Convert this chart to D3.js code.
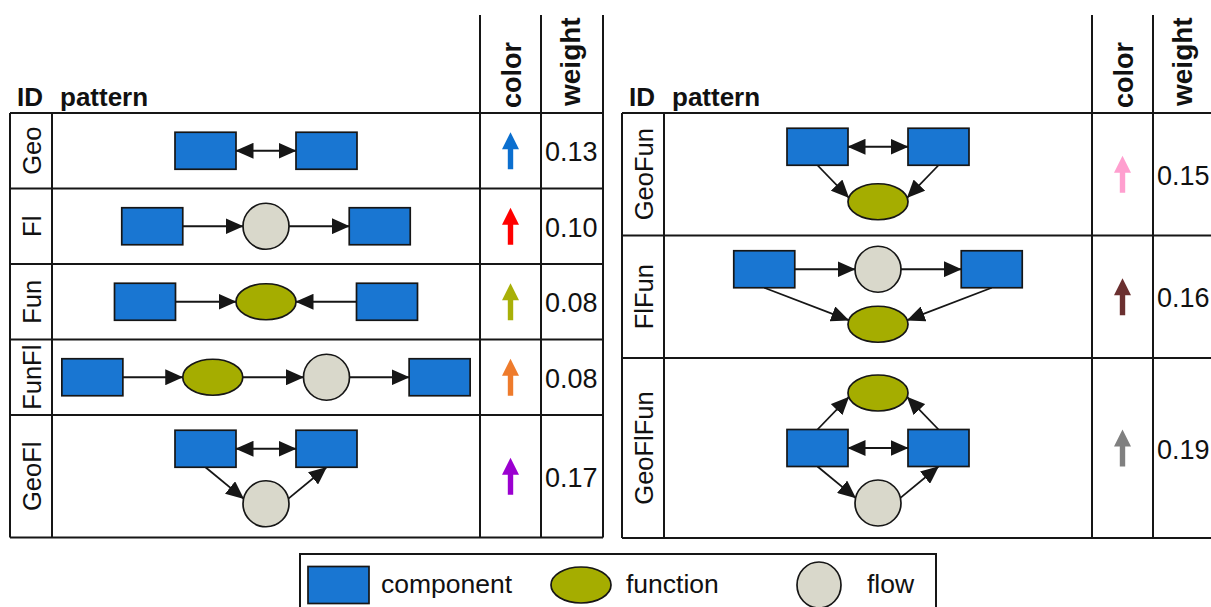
<!DOCTYPE html>
<html>
<head>
<meta charset="utf-8">
<script src="https://cdn.jsdelivr.net/npm/d3@7/dist/d3.min.js"></script>
<style>
  html, body { margin: 0; padding: 0; background: #fff; }
  text { font-family: "Liberation Sans", Arial, Helvetica, sans-serif; fill: #111; }
</style>
</head>
<body>
<script>
// ---------------- DATA ----------------
const ids = ["Geo", "Fl", "Fun", "FunFl", "GeoFl", "GeoFun", "FlFun", "GeoFlFun"];
const weights = [0.13, 0.10, 0.08, 0.08, 0.17, 0.15, 0.16, 0.19];
const arrowColors = ["#0b6fcf", "#ff0000", "#a8b008", "#ee7b2c", "#9b00d0", "#ff9fcf", "#6b3030", "#808080"];
const tableOf = [0, 0, 0, 0, 0, 1, 1, 1];
const headers = ["ID", "pattern", "color", "weight"];

// node kinds: c = component, f = function, w = flow ; [kind, horizontal slot, level]
const patternNodes = [
  [["c", -1, 0], ["c", 1, 0]],
  [["c", -1.88, 0], ["w", 0, 0], ["c", 1.88, 0]],
  [["c", -2, 0], ["f", 0, 0], ["c", 2, 0]],
  [["c", -2.87, 0], ["f", -0.88, 0], ["w", 1, 0], ["c", 2.87, 0]],
  [["c", -1, 0], ["c", 1, 0], ["w", 0, 1]],
  [["c", -1, 0], ["c", 1, 0], ["f", 0, 1]],
  [["c", -1.88, 0], ["w", 0, 0], ["c", 1.88, 0], ["f", 0, 1]],
  [["f", 0, 0], ["c", -1, 1], ["c", 1, 1], ["w", 0, 2]]
];
// edges: [from, to, fromSide, toSide, bidirectional]
const patternEdges = [
  [[0, 1, "r", "l", true]],
  [[0, 1, "r", "l", false], [1, 2, "r", "l", false]],
  [[0, 1, "r", "l", false], [2, 1, "l", "r", false]],
  [[0, 1, "r", "l", false], [1, 2, "r", "l", false], [2, 3, "r", "l", false]],
  [[0, 1, "r", "l", true], [0, 2, "b", "l", false], [2, 1, "r", "b", false]],
  [[0, 1, "r", "l", true], [0, 2, "b", "l", false], [1, 2, "b", "r", false]],
  [[0, 1, "r", "l", false], [1, 2, "r", "l", false], [0, 3, "b", "l", false], [2, 3, "b", "r", false]],
  [[1, 2, "r", "l", true], [1, 0, "t", "l", false], [2, 0, "t", "r", false], [1, 3, "b", "l", false], [3, 2, "r", "b", false]]
];
const legendKinds = ["c", "f", "w"];
const legendLabels = ["component", "function", "flow"];

// ---------------- STYLE / LAYOUT ----------------
const W = 1211, H = 607;
const fills = { c: "#1976d2", f: "#a5ad00", w: "#d9d8cb" };
const INK = "#161616";
const tableLefts = [10, 622];
const colW = [42, 428, 61, 62];
const headTop = 15, bodyTop = 113;
const rowH = { 1: 75.5, 2: 122.5, 3: 180 };
const unitX = 60.5, levelGap = 55;
const sizes = { c: { w: 61, h: 37 }, f: { rx: 30, ry: 18 }, w: { rx: 23, ry: 23 } };

const svg = d3.select("body").append("svg").attr("width", W).attr("height", H);

const defs = svg.append("defs");
defs.append("marker").attr("id", "ah")
  .attr("markerUnits", "userSpaceOnUse")
  .attr("viewBox", "0 0 18 16").attr("markerWidth", 18).attr("markerHeight", 16)
  .attr("refX", 17.5).attr("refY", 8).attr("orient", "auto-start-reverse")
  .append("path").attr("d", "M0,0 L18,8 L0,16 Z").attr("fill", INK);

const rows = ids.map((id, i) => ({
  id, i, table: tableOf[i], weight: weights[i], color: arrowColors[i],
  nodes: patternNodes[i], edges: patternEdges[i],
  levels: d3.max(patternNodes[i], d => d[2]) + 1
}));
[0, 1].forEach(t => {
  let y = bodyTop;
  rows.filter(r => r.table === t).forEach(r => {
    r.y0 = y; r.h = rowH[r.levels]; r.y1 = y + r.h; r.cy = y + r.h / 2; y = r.y1;
  });
});

const lineG = svg.append("g").attr("stroke", INK).attr("stroke-width", 2).attr("fill", "none");

[0, 1].forEach(t => {
  const L = tableLefts[t];
  const xs = d3.cumsum([L].concat(colW));
  const tr = rows.filter(r => r.table === t);
  const bottom = d3.max(tr, r => r.y1);
  const right = Math.min(xs[4], W + 5);
  const hy = [bodyTop].concat(tr.map(r => r.y1));
  hy.forEach(y => lineG.append("line").attr("x1", L).attr("x2", right).attr("y1", y).attr("y2", y));
  [xs[0], xs[1]].forEach(x => lineG.append("line").attr("x1", x).attr("x2", x).attr("y1", bodyTop).attr("y2", bottom));
  [xs[2], xs[3], xs[4]].forEach(x => lineG.append("line").attr("x1", x).attr("x2", x).attr("y1", headTop).attr("y2", bottom));

  svg.append("text").attr("x", L + 7).attr("y", 106).attr("font-size", 26).attr("font-weight", "bold").text(headers[0]);
  svg.append("text").attr("x", xs[1] + 8).attr("y", 106).attr("font-size", 26).attr("font-weight", "bold").text(headers[1]);
  svg.append("text").attr("transform", `translate(${xs[2] + 41},108) rotate(-90)`)
    .attr("font-size", 27).attr("font-weight", "bold").text(headers[2]);
  svg.append("text").attr("transform", `translate(${xs[3] + 39},106) rotate(-90)`)
    .attr("font-size", 28).attr("font-weight", "bold").text(headers[3]);

  tr.forEach(r => {
    r.xs = xs;
    svg.append("text").attr("transform", `translate(${L + 30.5},${r.cy}) rotate(-90)`)
      .attr("text-anchor", "middle").attr("font-size", 25.5).text(r.id);
    svg.append("text").attr("x", xs[3] + 4).attr("y", r.cy + 10.5)
      .attr("font-size", 27).text(d3.format(".2f")(r.weight));
    const ax = (xs[2] + xs[3]) / 2, top = r.cy - 18.5, bot = r.cy + 18.5, hh = 17, hw = 8.5, sw = 2.7;
    svg.append("path").attr("fill", r.color)
      .attr("d", `M${ax},${top} L${ax + hw},${top + hh} L${ax + sw},${top + hh} L${ax + sw},${bot} L${ax - sw},${bot} L${ax - sw},${top + hh} L${ax - hw},${top + hh} Z`);
  });
});

function drawNode(g, kind, x, y) {
  if (kind === "c") {
    g.append("rect").attr("x", x - sizes.c.w / 2).attr("y", y - sizes.c.h / 2)
      .attr("width", sizes.c.w).attr("height", sizes.c.h)
      .attr("fill", fills.c).attr("stroke", INK).attr("stroke-width", 1.7);
  } else {
    g.append("ellipse").attr("cx", x).attr("cy", y).attr("rx", sizes[kind].rx).attr("ry", sizes[kind].ry)
      .attr("fill", fills[kind]).attr("stroke", INK).attr("stroke-width", 1.7);
  }
}

function anchor(n, side, other) {
  if (n.kind === "c") {
    const hw = sizes.c.w / 2, hh = sizes.c.h / 2;
    return side === "r" ? [n.x + hw, n.y] : side === "l" ? [n.x - hw, n.y]
      : side === "t" ? [n.x, n.y - hh] : [n.x, n.y + hh];
  }
  const rx = sizes[n.kind].rx, ry = sizes[n.kind].ry;
  let tilt = 0;
  if (Math.abs(other.y - n.y) > 3) tilt = (other.y < n.y ? -1 : 1) * 13 * Math.PI / 180;
  if (side === "l") return [n.x - rx * Math.cos(tilt), n.y + ry * Math.sin(tilt)];
  if (side === "r") return [n.x + rx * Math.cos(tilt), n.y + ry * Math.sin(tilt)];
  if (side === "t") return [n.x, n.y - ry];
  return [n.x, n.y + ry];
}

rows.forEach(r => {
  const cx = (r.xs[1] + r.xs[2]) / 2;
  const xS = d3.scaleLinear().domain([0, 1]).range([cx, cx + unitX]);
  const y0 = r.cy - (r.levels - 1) / 2 * levelGap;
  const yS = d3.scaleLinear().domain([0, 1]).range([y0, y0 + levelGap]);
  const nodes = r.nodes.map(d => ({ kind: d[0], x: xS(d[1]), y: yS(d[2]) }));
  const g = svg.append("g");
  const eg = g.append("g");
  r.edges.forEach(e => {
    const a = nodes[e[0]], b = nodes[e[1]];
    const cA = anchor(a, e[2], b);
    const cB = anchor(b, e[3], a);
    const ln = eg.append("line").attr("x1", cA[0]).attr("y1", cA[1]).attr("x2", cB[0]).attr("y2", cB[1])
      .attr("stroke", INK).attr("stroke-width", 1.8).attr("marker-end", "url(#ah)");
    if (e[4]) ln.attr("marker-start", "url(#ah)");
  });
  nodes.forEach(n => drawNode(g, n.kind, n.x, n.y));
});

const lg = svg.append("g");
lg.append("rect").attr("x", 300).attr("y", 554).attr("width", 636).attr("height", 70)
  .attr("fill", "none").attr("stroke", INK).attr("stroke-width", 2);
const legendX = d3.scaleOrdinal().domain(legendKinds).range([338.5, 581, 819]);
const legendTextX = d3.scaleOrdinal().domain(legendKinds).range([381, 626, 867]);
legendKinds.forEach((k, i) => {
  if (k === "w") {
    lg.append("ellipse").attr("cx", legendX(k)).attr("cy", 585).attr("rx", 22).attr("ry", 23)
      .attr("fill", fills.w).attr("stroke", INK).attr("stroke-width", 1.7);
  } else drawNode(lg, k, legendX(k), 585);
  lg.append("text").attr("x", legendTextX(k)).attr("y", 593).attr("font-size", 26.5).text(legendLabels[i]);
});
</script>
</body>
</html>
